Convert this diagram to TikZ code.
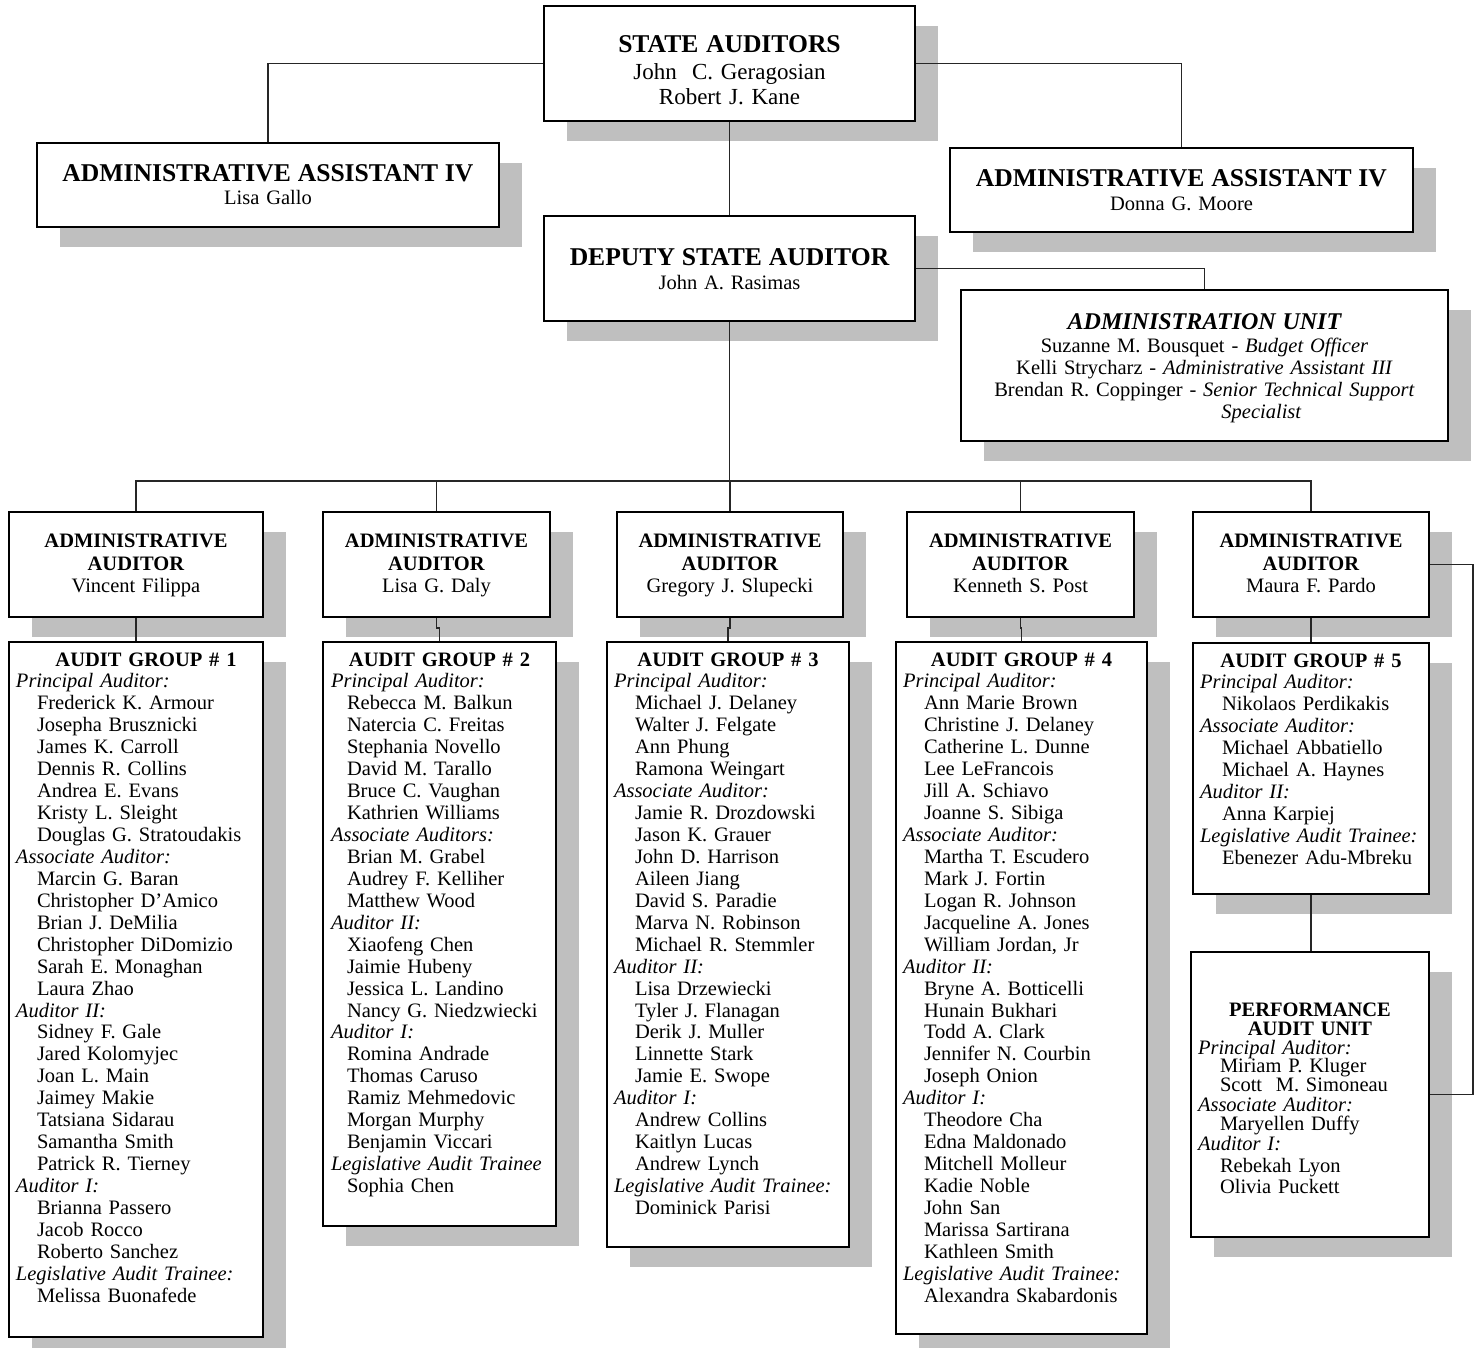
\documentclass[tikz,border=0pt]{standalone}
\usepackage{fontspec}
\setmainfont{Liberation Serif}
\usetikzlibrary{shadows}
\definecolor{shadowgray}{gray}{0.75}

\begin{document}
\begin{tikzpicture}[x=0.5pt, y=-0.5pt,
  unitbox/.style={draw=black, line width=1pt, fill=white, inner sep=0pt, anchor=north west,
    drop shadow={shadow xshift=11.5pt, shadow yshift=-10pt, fill=shadowgray, opacity=1},
    font=\fontsize{10.25}{11.25}\selectfont},
  grpbox/.style={unitbox, align=left, text height=12pt, font=\fontsize{10.25}{10.97}\selectfont},
  link/.style={draw=black!85, line width=0.6pt}]
\useasboundingbox (0,0) rectangle (1474,1348);

% top level
\node [unitbox, text width=185.5pt, align=center, text height=23.25pt, text depth=34.25pt, font=\fontsize{11.5}{12.5}\selectfont] (sa) at (543,5)
  {{\fontsize{12.8}{13.5}\selectfont\bfseries STATE AUDITORS}\\[1pt] John\ \ C. Geragosian\\ Robert J. Kane};
\node [unitbox, text width=231pt, align=center, text height=19.25pt, text depth=22.75pt] (aal) at (36,142)
  {{\fontsize{12.8}{13.5}\selectfont\bfseries ADMINISTRATIVE ASSISTANT IV}\\[0.5pt] Lisa Gallo};
\node [unitbox, text width=231.5pt, align=center, text height=19.25pt, text depth=22.75pt] (aar) at (949,147)
  {{\fontsize{12.8}{13.5}\selectfont\bfseries ADMINISTRATIVE ASSISTANT IV}\\[0.9pt] Donna G. Moore};
\node [unitbox, text width=185.5pt, align=center, text height=24.75pt, text depth=27.75pt] (dep) at (543,215)
  {{\fontsize{12.8}{13.5}\selectfont\bfseries DEPUTY STATE AUDITOR}\\[0.9pt] John A. Rasimas};
\node [unitbox, text width=243.5pt, align=center, text height=20pt, text depth=55.5pt, font=\fontsize{10.25}{11}\selectfont] (adu) at (960,289)
  {{\fontsize{12}{13}\selectfont\bfseries\itshape ADMINISTRATION UNIT}\\[0.4pt]
   Suzanne M. Bousquet - \textit{Budget Officer}\\
   Kelli Strycharz - \textit{Administrative Assistant III}\\
   Brendan R. Coppinger - \textit{Senior Technical Support}\\
   \hspace*{57pt}\textit{Specialist}};

% administrative auditors
\node [unitbox, text width=127pt, align=center, text height=17.9pt, text depth=34.6pt] (aa1) at (8,511)
  {\textbf{ADMINISTRATIVE}\\ \textbf{AUDITOR}\\ Vincent Filippa};
\node [unitbox, text width=113.5pt, align=center, text height=17.9pt, text depth=34.6pt] (aa2) at (322,511)
  {\textbf{ADMINISTRATIVE}\\ \textbf{AUDITOR}\\ Lisa G. Daly};
\node [unitbox, text width=113pt, align=center, text height=17.9pt, text depth=34.6pt] (aa3) at (616,511)
  {\textbf{ADMINISTRATIVE}\\ \textbf{AUDITOR}\\ Gregory J. Slupecki};
\node [unitbox, text width=113.5pt, align=center, text height=17.9pt, text depth=34.6pt] (aa4) at (906,511)
  {\textbf{ADMINISTRATIVE}\\ \textbf{AUDITOR}\\ Kenneth S. Post};
\node [unitbox, text width=118pt, align=center, text height=17.9pt, text depth=34.6pt] (aa5) at (1192,511)
  {\textbf{ADMINISTRATIVE}\\ \textbf{AUDITOR}\\ Maura F. Pardo};

% audit groups
\node [grpbox, text width=127pt, text depth=335.5pt] (ag1) at (8,641)
  {\leftskip=14pt
   \hspace*{-14pt}\makebox[\linewidth]{\hspace{10pt}\bfseries AUDIT GROUP \# 1}\\
   \hspace*{-10.5pt}\textit{Principal Auditor:}\\
   Frederick K. Armour\\
   Josepha Brusznicki\\
   James K. Carroll\\
   Dennis R. Collins\\
   Andrea E. Evans\\
   Kristy L. Sleight\\
   Douglas G. Stratoudakis\\
   \hspace*{-10.5pt}\textit{Associate Auditor:}\\
   Marcin G. Baran\\
   Christopher D’Amico\\
   Brian J. DeMilia\\
   Christopher DiDomizio\\
   Sarah E. Monaghan\\
   Laura Zhao\\
   \hspace*{-10.5pt}\textit{Auditor II:}\\
   Sidney F. Gale\\
   Jared Kolomyjec\\
   Joan L. Main\\
   Jaimey Makie\\
   Tatsiana Sidarau\\
   Samantha Smith\\
   Patrick R. Tierney\\
   \hspace*{-10.5pt}\textit{Auditor I:}\\
   Brianna Passero\\
   Jacob Rocco\\
   Roberto Sanchez\\
   \hspace*{-10.5pt}\mbox{\textit{Legislative Audit Trainee:}}\\
   Melissa Buonafede\par};
\node [grpbox, text width=116.5pt, text depth=280pt] (ag2) at (322,641)
  {\leftskip=12pt
   \hspace*{-12pt}\makebox[\linewidth]{\bfseries AUDIT GROUP \# 2}\\
   \hspace*{-8pt}\textit{Principal Auditor:}\\
   Rebecca M. Balkun\\
   Natercia C. Freitas\\
   Stephania Novello\\
   David M. Tarallo\\
   Bruce C. Vaughan\\
   Kathrien Williams\\
   \hspace*{-8pt}\textit{Associate Auditors:}\\
   Brian M. Grabel\\
   Audrey F. Kelliher\\
   Matthew Wood\\
   \hspace*{-8pt}\textit{Auditor II:}\\
   Xiaofeng Chen\\
   Jaimie Hubeny\\
   Jessica L. Landino\\
   Nancy G. Niedzwiecki\\
   \hspace*{-8pt}\textit{Auditor I:}\\
   Romina Andrade\\
   Thomas Caruso\\
   Ramiz Mehmedovic\\
   Morgan Murphy\\
   Benjamin Viccari\\
   \hspace*{-8pt}\textit{Legislative Audit Trainee}\\
   Sophia Chen\par};
\node [grpbox, text width=121pt, text depth=290.5pt] (ag3) at (606,641)
  {\leftskip=14pt
   \hspace*{-14pt}\makebox[\linewidth]{\bfseries AUDIT GROUP \# 3}\\
   \hspace*{-10.5pt}\textit{Principal Auditor:}\\
   Michael J. Delaney\\
   Walter J. Felgate\\
   Ann Phung\\
   Ramona Weingart\\
   \hspace*{-10.5pt}\textit{Associate Auditor:}\\
   Jamie R. Drozdowski\\
   Jason K. Grauer\\
   John D. Harrison\\
   Aileen Jiang\\
   David S. Paradie\\
   Marva N. Robinson\\
   Michael R. Stemmler\\
   \hspace*{-10.5pt}\textit{Auditor II:}\\
   Lisa Drzewiecki\\
   Tyler J. Flanagan\\
   Derik J. Muller\\
   Linnette Stark\\
   Jamie E. Swope\\
   \hspace*{-10.5pt}\textit{Auditor I:}\\
   Andrew Collins\\
   Kaitlyn Lucas\\
   Andrew Lynch\\
   \hspace*{-10.5pt}\textit{Legislative Audit Trainee:}\\
   Dominick Parisi\par};
\node [grpbox, text width=125.5pt, text depth=334pt] (ag4) at (895,641)
  {\leftskip=14pt
   \hspace*{-14pt}\makebox[\linewidth]{\bfseries AUDIT GROUP \# 4}\\
   \hspace*{-10.5pt}\textit{Principal Auditor:}\\
   Ann Marie Brown\\
   Christine J. Delaney\\
   Catherine L. Dunne\\
   Lee LeFrancois\\
   Jill A. Schiavo\\
   Joanne S. Sibiga\\
   \hspace*{-10.5pt}\textit{Associate Auditor:}\\
   Martha T. Escudero\\
   Mark J. Fortin\\
   Logan R. Johnson\\
   Jacqueline A. Jones\\
   William Jordan, Jr\\
   \hspace*{-10.5pt}\textit{Auditor II:}\\
   Bryne A. Botticelli\\
   Hunain Bukhari\\
   Todd A. Clark\\
   Jennifer N. Courbin\\
   Joseph Onion\\
   \hspace*{-10.5pt}\textit{Auditor I:}\\
   Theodore Cha\\
   Edna Maldonado\\
   Mitchell Molleur\\
   Kadie Noble\\
   John San\\
   Marissa Sartirana\\
   Kathleen Smith\\
   \hspace*{-10.5pt}\textit{Legislative Audit Trainee:}\\
   Alexandra Skabardonis\par};
\node [grpbox, text width=118pt, text depth=113.5pt] (ag5) at (1192,642)
  {\leftskip=14.5pt
   \hspace*{-14.5pt}\makebox[\linewidth]{\bfseries AUDIT GROUP \# 5}\\
   \hspace*{-11pt}\textit{Principal Auditor:}\\
   Nikolaos Perdikakis\\
   \hspace*{-11pt}\textit{Associate Auditor:}\\
   Michael Abbatiello\\
   Michael A. Haynes\\
   \hspace*{-11pt}\textit{Auditor II:}\\
   Anna Karpiej\\
   \hspace*{-11pt}\textit{Legislative Audit Trainee:}\\
   Ebenezer Adu-Mbreku\par};
\node [grpbox, text width=119pt, text height=32.4pt, text depth=110.1pt, font=\fontsize{10.25}{9.3}\selectfont] (pau) at (1190,951)
  {\leftskip=14.5pt \lineskiplimit=-5pt
   \hspace*{-14.5pt}\makebox[\linewidth]{\bfseries PERFORMANCE}\\
   \hspace*{-14.5pt}\makebox[\linewidth]{\bfseries AUDIT UNIT}\\
   \hspace*{-11pt}\textit{Principal Auditor:}\\
   Miriam P. Kluger\\
   Scott\ \ M. Simoneau\\[0.7pt]
   \hspace*{-11pt}\textit{Associate Auditor:}\\[0.1pt]
   Maryellen Duffy\\[1pt]
   \hspace*{-11pt}\textit{Auditor I:}\\[1.5pt]
   Rebekah Lyon\\[1.2pt]
   Olivia Puckett\par};

% connectors
\coordinate (bus) at (729,481);
\draw [link] (sa.west) -| (aal.north);
\draw [link] (sa.east) -| (aar.north);
\draw [link] (sa.south) -- (dep.north);
\draw [link] (dep.east) -| (adu.north);
\draw [link] (dep.south) -- (dep.south |- bus);
\draw [link] (aa1.north) |- (bus) -| (aa5.north);
\draw [link] (aa2.north) -- (aa2.north |- bus);
\draw [link] (aa3.north) -- (aa3.north |- bus);
\draw [link] (aa4.north) -- (aa4.north |- bus);
\draw [link] (aa1.south) -- (ag1.north);
\draw [link] (aa2.south) -- ++(0,10) -| (ag2.north);
\draw [link] (aa3.south) -- ++(0,10) -| (ag3.north);
\draw [link] (aa4.south) -- ++(0,10) -| (ag4.north);
\draw [link] (aa5.south) -- (ag5.north);
\draw [link] (ag5.south) -- (ag5.south |- pau.north);
\draw [link] (aa5.east) -- ++(43,0) |- (pau.east);
\end{tikzpicture}
\end{document}
